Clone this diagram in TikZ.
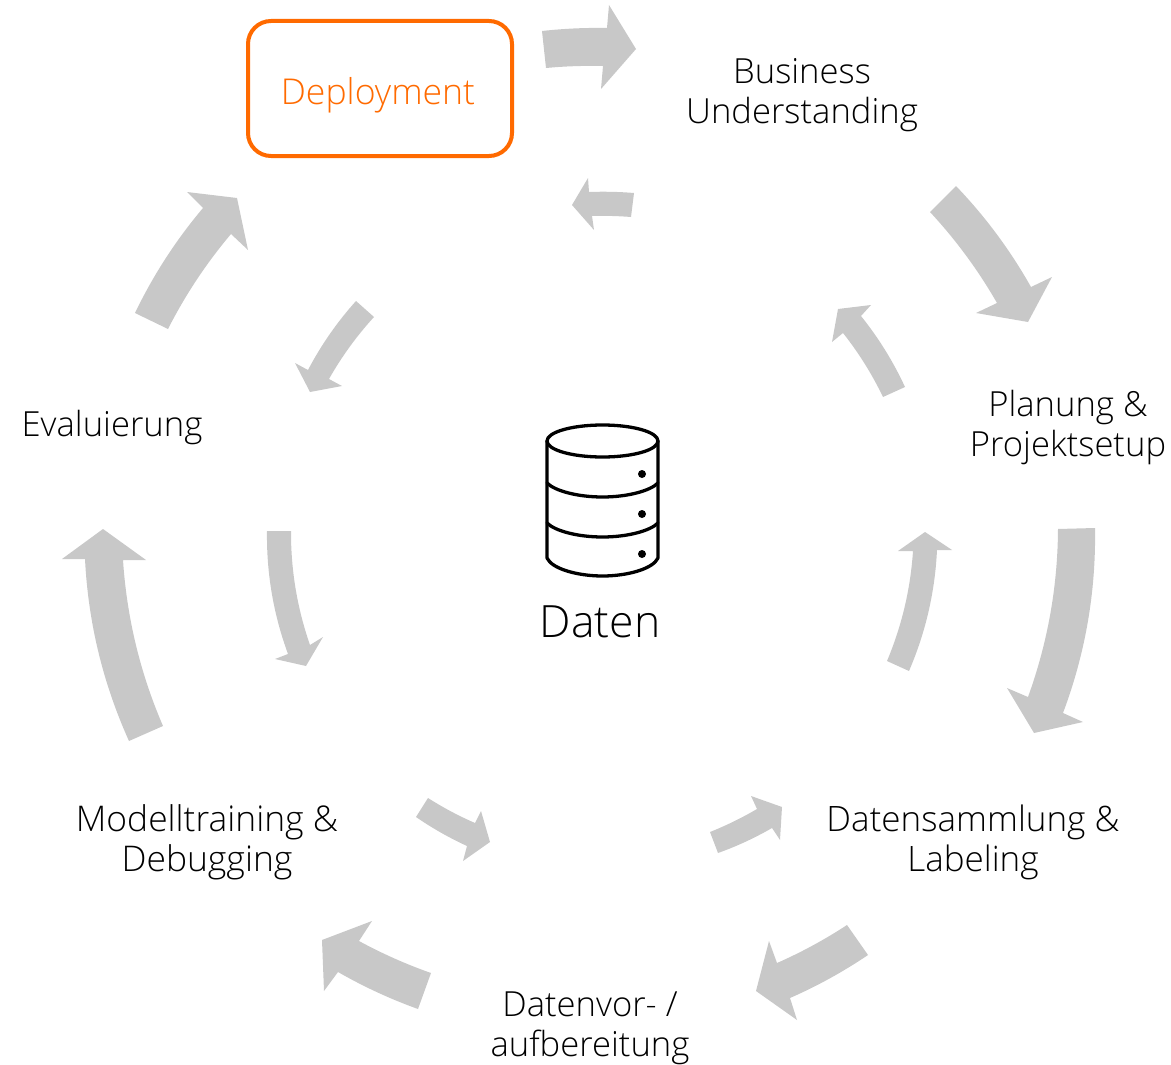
\documentclass[tikz,border=0pt]{standalone}
\usepackage{fontspec}
\setmainfont{Open Sans}[UprightFont=* Light]
\usetikzlibrary{calc}
\definecolor{cyclegrey}{HTML}{C8C8C8}
\definecolor{deployorange}{HTML}{FF6A00}
\tikzset{
  cyclearrow/.style={fill=cyclegrey,draw=none},
  label/.style={anchor=base,align=center,inner sep=0pt,font=\fontsize{34.6}{40}\selectfont,text=black},
  dbline/.style={draw=black,line width=3.3pt,line cap=round,line join=round},
  dbdot/.style={fill=black,draw=none},
}
% tail-left, body-left, head-left, tip, head-right, body-right, tail-right, bulge left edge, bulge right edge
\newcommand{\blockarrow}[9]{%
  \path[cyclearrow] (#1)
    .. controls ($(#1)!.3333!(#2)!#8pt!90:(#2)$) and ($(#1)!.6667!(#2)!#8pt!90:(#2)$) .. (#2)
    -- (#3) -- (#4) -- (#5) -- (#6)
    .. controls ($(#7)!.6667!(#6)!#9pt!90:(#6)$) and ($(#7)!.3333!(#6)!#9pt!90:(#6)$) .. (#7) -- cycle;}
\begin{document}
\begin{tikzpicture}[x=1pt,y=-1pt]
\useasboundingbox (0,0) rectangle (1171,1065);
% outer clockwise arrows
\blockarrow{542,31}{607,28}{609,5}{636,49}{601,89}{603,66}{546,68}{1.4}{1.1}
\blockarrow{956,186}{1031,287}{1052,277}{1028,322}{976,313}{997,303}{930,212}{5.3}{4.3}
\blockarrow{1095,528}{1063,713}{1083,722}{1034,733}{1007,688}{1028,697}{1058,529}{11.9}{9.8}
\blockarrow{868,955}{790,998}{797,1020}{756,991}{769,941}{777,963}{847,925}{2.7}{2.2}
\blockarrow{418,1009}{338,972}{324,991}{322,940}{372,921}{359,941}{431,973}{2.6}{2.1}
\blockarrow{129,741}{85,559}{62,559}{103,529}{146,560}{123,560}{163,726}{11.8}{9.8}
\blockarrow{135,313}{203,208}{187,192}{237,198}{248,250}{231,234}{168,329}{5.3}{4.4}
% inner counter-clockwise arrows
\blockarrow{631,217}{592,216}{594,230}{572,205}{588,178}{589,192}{634,193}{-0.7}{-0.9}
\blockarrow{883,397}{843,333}{832,342}{838,309}{871,305}{861,316}{905,387}{-2.8}{-3.4}
\blockarrow{887,661}{913,551}{898,551}{925,532}{952,550}{937,550}{909,671}{-6.3}{-7.5}
\blockarrow{710,832}{757,809}{751,796}{782,807}{780,840}{772,828}{718,853}{-1.3}{-1.8}
\blockarrow{428,798}{475,823}{481,811}{490,842}{463,861}{467,846}{416,817}{-1.4}{-1.7}
\blockarrow{291,531}{310,645}{323,637}{306,666}{275,659}{288,654}{267,531}{-6.6}{-7.7}
\blockarrow{374,317}{329,379}{342,386}{310,392}{295,363}{308,370}{356,301}{-2.9}{-3.5}
% Deployment box
\draw[deployorange,line width=4pt,rounded corners=23pt] (248,21) rectangle (512,156);
\node[label,text=deployorange,font=\fontsize{35.6}{40}\selectfont] (deploy) at (378,104) {Deployment};
% labels
\node[label] (business) at (802,123.5) {Business\\Understanding};
\node[label] (planung) at (1068,456.5) {Planung \&\\Projektsetup};
\node[label,font=\fontsize{35}{40}\selectfont] (sammlung) at (973,871) {Datensammlung \&\\Labeling};
\node[label] (vorbereitung) at (590,1056) {Datenvor- /\\aufbereitung};
\node[label,font=\fontsize{35.4}{40}\selectfont] (training) at (207,871) {Modelltraining \&\\Debugging};
\node[label] (eval) at (112,436) {Evaluierung};
% database icon
\draw[dbline] (602.5,441) ellipse [x radius=55.5,y radius=16];
\draw[dbline] (547,441) -- (547,558) .. controls (552,569) and (578,576) .. (602.5,576)
   .. controls (627,576) and (653,569) .. (658,558) -- (658,441);
\draw[dbline] (547,483) .. controls (555,491) and (578,497) .. (602.5,497)
   .. controls (627,497) and (650,491) .. (658,483);
\draw[dbline] (547,523) .. controls (555,531) and (578,537) .. (602.5,537)
   .. controls (627,537) and (650,531) .. (658,523);
\fill[dbdot] (642,474) circle (4);
\fill[dbdot] (642,514) circle (4);
\fill[dbdot] (642,554) circle (4);
\node[label,font=\fontsize{44.5}{50}\selectfont] (daten) at (600,637) {Daten};
\end{tikzpicture}
\end{document}
